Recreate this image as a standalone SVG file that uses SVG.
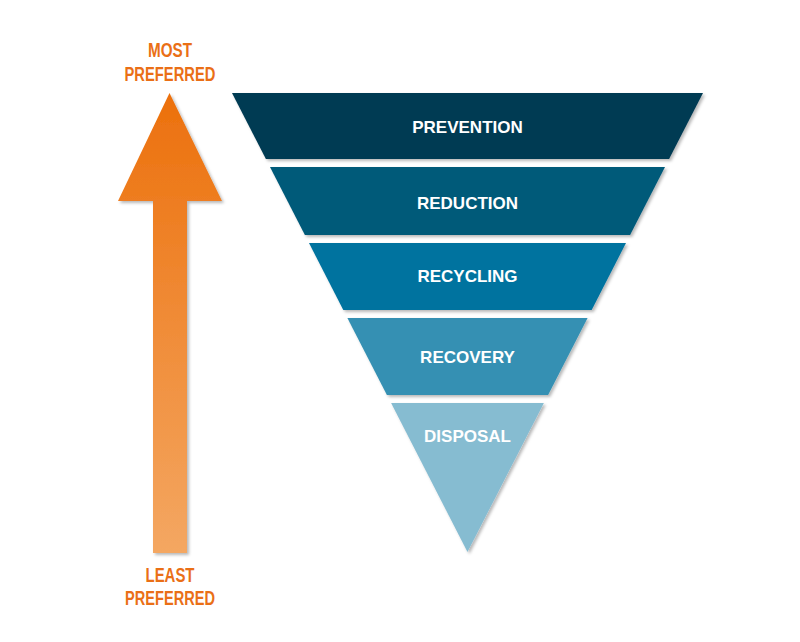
<svg xmlns="http://www.w3.org/2000/svg" width="800" height="642" viewBox="0 0 800 642">
  <style>
    .band { filter: url(#shadow); }
    .lbl { font-family: "Liberation Sans", Arial, sans-serif; font-weight: bold; font-size: 17px; fill: #ffffff; text-anchor: middle; }
    .olbl { font-family: "Liberation Sans Narrow", "Liberation Sans", Arial, sans-serif; font-weight: bold; font-size: 20px; fill: #ea6f16; text-anchor: middle; }
  </style>
  <defs>
    <filter id="shadow" x="-10%" y="-10%" width="125%" height="130%">
      <feDropShadow dx="2" dy="2" stdDeviation="1.8" flood-color="#000000" flood-opacity="0.28"/>
    </filter>
    <linearGradient id="arrowGrad" gradientUnits="userSpaceOnUse" x1="0" y1="93" x2="0" y2="553">
      <stop offset="0" stop-color="#ec700c"/>
      <stop offset="1" stop-color="#f4a762"/>
    </linearGradient>
  </defs>
  <rect width="800" height="642" fill="#ffffff"/>

  <g id="preference-arrow">
    <polygon class="band" points="169.5,93 222,201 187,201 187,553 153,553 153,201 118,201" fill="url(#arrowGrad)"/>
    <text class="olbl" x="170" y="57" textLength="44" lengthAdjust="spacingAndGlyphs">MOST</text>
    <text class="olbl" x="170" y="81" textLength="91" lengthAdjust="spacingAndGlyphs">PREFERRED</text>
    <text class="olbl" x="170" y="582" textLength="49" lengthAdjust="spacingAndGlyphs">LEAST</text>
    <text class="olbl" x="170" y="605" textLength="90" lengthAdjust="spacingAndGlyphs">PREFERRED</text>
  </g>

  <g id="prevention">
    <polygon class="band" points="232,93 703,93 669.1,159 265.9,159" fill="#043a52"/>
    <text class="lbl" x="467.5" y="133">PREVENTION</text>
  </g>
  <g id="reduction">
    <polygon class="band" points="270,167 665,167 630.1,235 304.9,235" fill="#045a79"/>
    <text class="lbl" x="467.5" y="209">REDUCTION</text>
  </g>
  <g id="recycling">
    <polygon class="band" points="309,243 626,243 591.7,310 343.3,310" fill="#05739f"/>
    <text class="lbl" x="467.5" y="282">RECYCLING</text>
  </g>
  <g id="recovery">
    <polygon class="band" points="347.4,318 587.6,318 548.1,395 386.9,395" fill="#3490b3"/>
    <text class="lbl" x="467.5" y="363">RECOVERY</text>
  </g>
  <g id="disposal">
    <polygon class="band" points="391.1,403 543.9,403 467.5,552" fill="#86bcd1"/>
    <text class="lbl" x="467.5" y="442">DISPOSAL</text>
  </g>
</svg>
